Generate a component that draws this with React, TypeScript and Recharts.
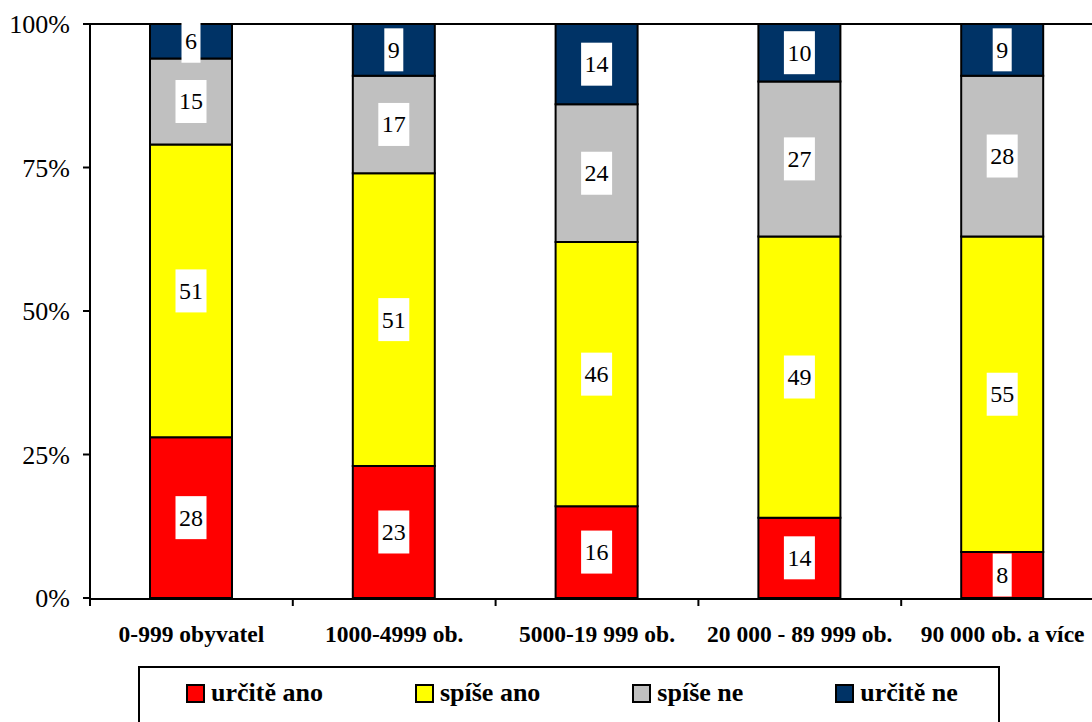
import React from "react";
import {
  BarChart,
  Bar,
  XAxis,
  YAxis,
  Legend,
  LabelList,
  ReferenceLine,
} from "recharts";

const categories = [
  "0-999 obyvatel",
  "1000-4999 ob.",
  "5000-19 999 ob.",
  "20 000 - 89 999 ob.",
  "90 000 ob. a více",
];
const urciteAno = [28, 23, 16, 14, 8];
const spiseAno = [51, 51, 46, 49, 55];
const spiseNe = [15, 17, 24, 27, 28];
const urciteNe = [6, 9, 14, 10, 9];
const yTicks = [0, 25, 50, 75, 100];
const edgeTicks = [0, 1, 2, 3, 4, 5];

const series = [
  { key: "urciteAno", name: "určitě ano", color: "#FF0000" },
  { key: "spiseAno", name: "spíše ano", color: "#FFFF00" },
  { key: "spiseNe", name: "spíše ne", color: "#C0C0C0" },
  { key: "urciteNe", name: "určitě ne", color: "#003366" },
];

const data = categories.map((name, i) => ({
  name,
  slot: i,
  urciteAno: urciteAno[i],
  spiseAno: spiseAno[i],
  spiseNe: spiseNe[i],
  urciteNe: urciteNe[i],
}));

const FONT = "Liberation Serif, Tinos, Times New Roman, DejaVu Serif, serif";

// white box with the value, centred on the segment
const BoxLabel = (props: any) => {
  const { x, y, width, height, value } = props;
  const cx = x + width / 2;
  const cy = y + height / 2;
  const w = String(value).length * 12 + 7;
  const h = 43;
  return (
    <g>
      <rect x={cx - w / 2} y={cy - h / 2} width={w} height={h} fill="#fff" />
      <text
        x={cx}
        y={cy}
        textAnchor="middle"
        dominantBaseline="central"
        fontFamily={FONT}
        fontSize={24}
        fill="#000"
      >
        {value}
      </text>
    </g>
  );
};

const LegendBox = () => (
  <div
    style={{
      boxSizing: "border-box",
      width: 862,
      height: 80,
      border: "2px solid #000",
      display: "flex",
      alignItems: "flex-start",
      paddingLeft: 46,
      paddingTop: 10,
      gap: 92,
      fontFamily: FONT,
      fontWeight: "bold",
      fontSize: 26,
      color: "#000",
    }}
  >
    {series.map((s) => (
      <div key={s.key} style={{ display: "flex", alignItems: "center" }}>
        <span
          style={{
            display: "inline-block",
            boxSizing: "border-box",
            width: 19,
            height: 19,
            background: s.color,
            border: "2px solid #000",
            marginRight: 6,
          }}
        />
        <span style={{ lineHeight: "30px" }}>{s.name}</span>
      </div>
    ))}
  </div>
);

export default function App() {
  return (
    <div style={{ width: 1092, height: 722, overflow: "hidden", position: "relative" }}>
      <style>{`body{margin:0;background:#fff}`}</style>
      <BarChart
        width={1104}
        height={722}
        data={data}
        margin={{ top: 24, right: 0, bottom: 0, left: 0 }}
      >
        <XAxis
          xAxisId={0}
          type="number"
          dataKey="slot"
          domain={[0, 5]}
          allowDataOverflow
          ticks={edgeTicks}
          height={1}
          axisLine={false}
          tick={() => <g />}
          tickSize={8}
          tickLine={{ stroke: "#000", strokeWidth: 2 }}
        />
        <XAxis
          xAxisId={1}
          dataKey="name"
          height={123}
          tickLine={false}
          tickSize={0}
          tickMargin={26}
          axisLine={{ stroke: "#000", strokeWidth: 2 }}
          tick={{
            fill: "#000",
            fontFamily: FONT,
            fontWeight: "bold",
            fontSize: 23.5,
          }}
          interval={0}
        />
        <YAxis
          width={90}
          domain={[0, 100]}
          ticks={yTicks}
          tickFormatter={(v) => `${v}%`}
          tickSize={7}
          tickMargin={13}
          axisLine={{ stroke: "#000", strokeWidth: 2 }}
          tickLine={{ stroke: "#000", strokeWidth: 2 }}
          tick={{ fill: "#000", fontFamily: FONT, fontSize: 26 }}
        />
        <ReferenceLine xAxisId={1} y={100} stroke="#000" strokeWidth={2} />
        {series.map((s) => (
          <Bar
            key={s.key}
            xAxisId={1}
            dataKey={s.key}
            name={s.name}
            stackId="a"
            fill={s.color}
            stroke="#000"
            strokeWidth={2}
            barSize={82}
            isAnimationActive={false}
          >
            <LabelList dataKey={s.key} content={BoxLabel} />
          </Bar>
        ))}
        <Legend
          layout="vertical"
          align="center"
          verticalAlign="bottom"
          content={() => <LegendBox />}
          wrapperStyle={{
            left: 138,
            top: 666,
            width: 862,
            height: 0,
            overflow: "visible",
            bottom: "auto",
          }}
        />
      </BarChart>
    </div>
  );
}
